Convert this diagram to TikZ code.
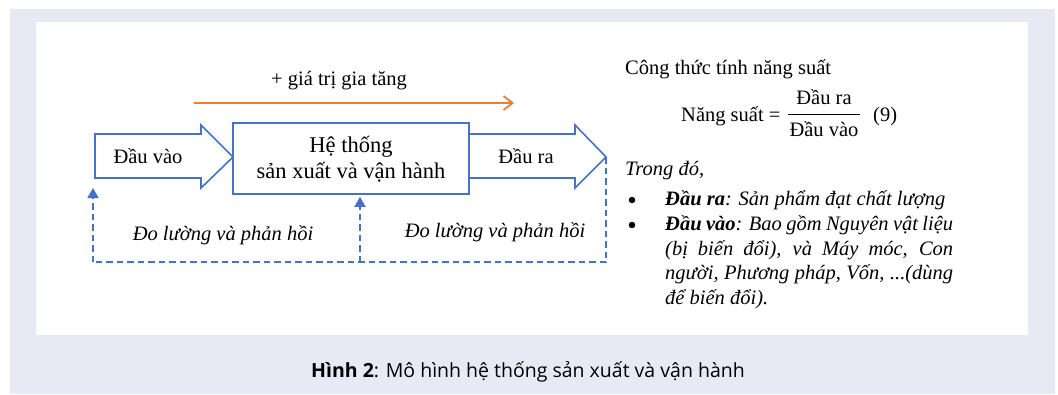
\documentclass[tikz,border=0pt]{standalone}
\usepackage{fontspec}
\setmainfont{Liberation Serif}
\newfontfamily\capfont{Open Sans}
\usetikzlibrary{arrows.meta}
\definecolor{bgc}{HTML}{E7EAF5}
\definecolor{blu}{HTML}{4472C4}
\definecolor{ora}{HTML}{ED7D31}
\tikzset{
  blockarrow/.style={draw=blu, line width=1.6pt, fill=white, line join=miter},
  sysbox/.style={draw=blu, line width=1.6pt, fill=white, minimum width=236pt, minimum height=71pt, inner sep=0pt},
  txt/.style={inner sep=0pt, font=\fontsize{20.5}{24.5}\selectfont},
  ittxt/.style={inner sep=0pt, font=\fontsize{20.5}{24.5}\selectfont\itshape},
  systxt/.style={inner sep=0pt, align=center, font=\fontsize{22.5}{26}\selectfont},
  fb/.style={draw=blu, line width=1.5pt, dash pattern=on 6.5pt off 4pt},
  fbtip/.style={-{Triangle[length=10pt,width=11pt]}},
  bulletdot/.style={circle, fill=black, inner sep=0pt, minimum size=6.5pt},
}
\begin{document}
\begin{tikzpicture}[x=1pt,y=-1pt]
\useasboundingbox (0,0) rectangle (1058,394);
\fill[white] (0,0) rectangle (1058,394);
\fill[bgc] (10,9) rectangle (1055,394);
\fill[white] (36,22) rectangle (1028,335);

% value-added arrow
\node[txt] (va) at (339,81) {+ giá trị gia tăng};
\coordinate (vaS) at (194,103);
\coordinate (vaE) at (514,103);
\draw[ora, line width=1.8pt, -{Straight Barb[length=9pt,width=14pt,line width=1.8pt]}] (vaS) -- (vaE);

% input block arrow
\draw[blockarrow] (95,134) -- (201,134) -- (201,125) -- (233,157) -- (201,188) -- (201,178) -- (95,178) -- cycle;
\node[txt] (inlbl) at (148,156) {Đầu vào};

% system box
\node[sysbox] (sys) at (351,158.5) {};
\node[systxt] (systext) at (351,159) {Hệ thống\\sản xuất và vận hành};

% output block arrow
\draw[blockarrow] (469,134) -- (575,134) -- (575,125) -- (606,157) -- (575,188) -- (575,178) -- (469,178) -- cycle;
\node[txt] (outlbl) at (526,156) {Đầu ra};

% feedback
\coordinate (outtip) at (606,157);
\coordinate (fbR) at (606,262);
\coordinate (fbM) at (360,262);
\coordinate (fbL) at (93,262);
\coordinate (inTip) at (93,188);
\draw[fb] (outtip) -- (fbR) -- (fbL);
\draw[fb, fbtip] (fbL) -- (inTip);
\draw[fb, fbtip] (fbM) -- ([yshift=-2pt]fbM |- sys.south);
\node[ittxt] (fb1) at (223,235) {Đo lường và phản hồi};
\node[ittxt] (fb2) at (495,232) {Đo lường và phản hồi};

% formula
\node[txt, anchor=base west] (title) at (625,74) {Công thức tính năng suất};
\node[txt, anchor=base west] (ns) at (681,121) {Năng suất =};
\node[txt, anchor=base] (num) at (824,104) {Đầu ra};
\node[txt, anchor=base] (den) at (824,136) {Đầu vào};
\coordinate (barL) at (788,114);
\coordinate (barR) at (860,114);
\draw[line width=1pt] (barL) -- (barR);
\node[txt, anchor=base west] (eqn) at (873,121) {(9)};

\node[ittxt, anchor=base west] (trong) at (625,175) {Trong đó,};

\node[bulletdot] (b1) at (632,200) {};
\node[ittxt, anchor=base west] (l1) at (665,205) {\textbf{Đầu ra}: Sản phẩm đạt chất lượng};
\node[bulletdot] (b2) at (632,225) {};
\node[ittxt, anchor=north west, text width=288pt, align=justify] (l2) at (665,215.5) {\textbf{Đầu vào}: Bao gồm Nguyên vật liệu\linebreak (bị biến đổi), và Máy móc, Con\linebreak người, Phương pháp, Vốn, ...(dùng\linebreak để biến đổi).};

% caption
\node[inner sep=0pt, font=\capfont\fontsize{19.5}{23}\selectfont] (cap) at (528,372) {\textbf{Hình 2}: Mô hình hệ thống sản xuất và vận hành};
\end{tikzpicture}
\end{document}
